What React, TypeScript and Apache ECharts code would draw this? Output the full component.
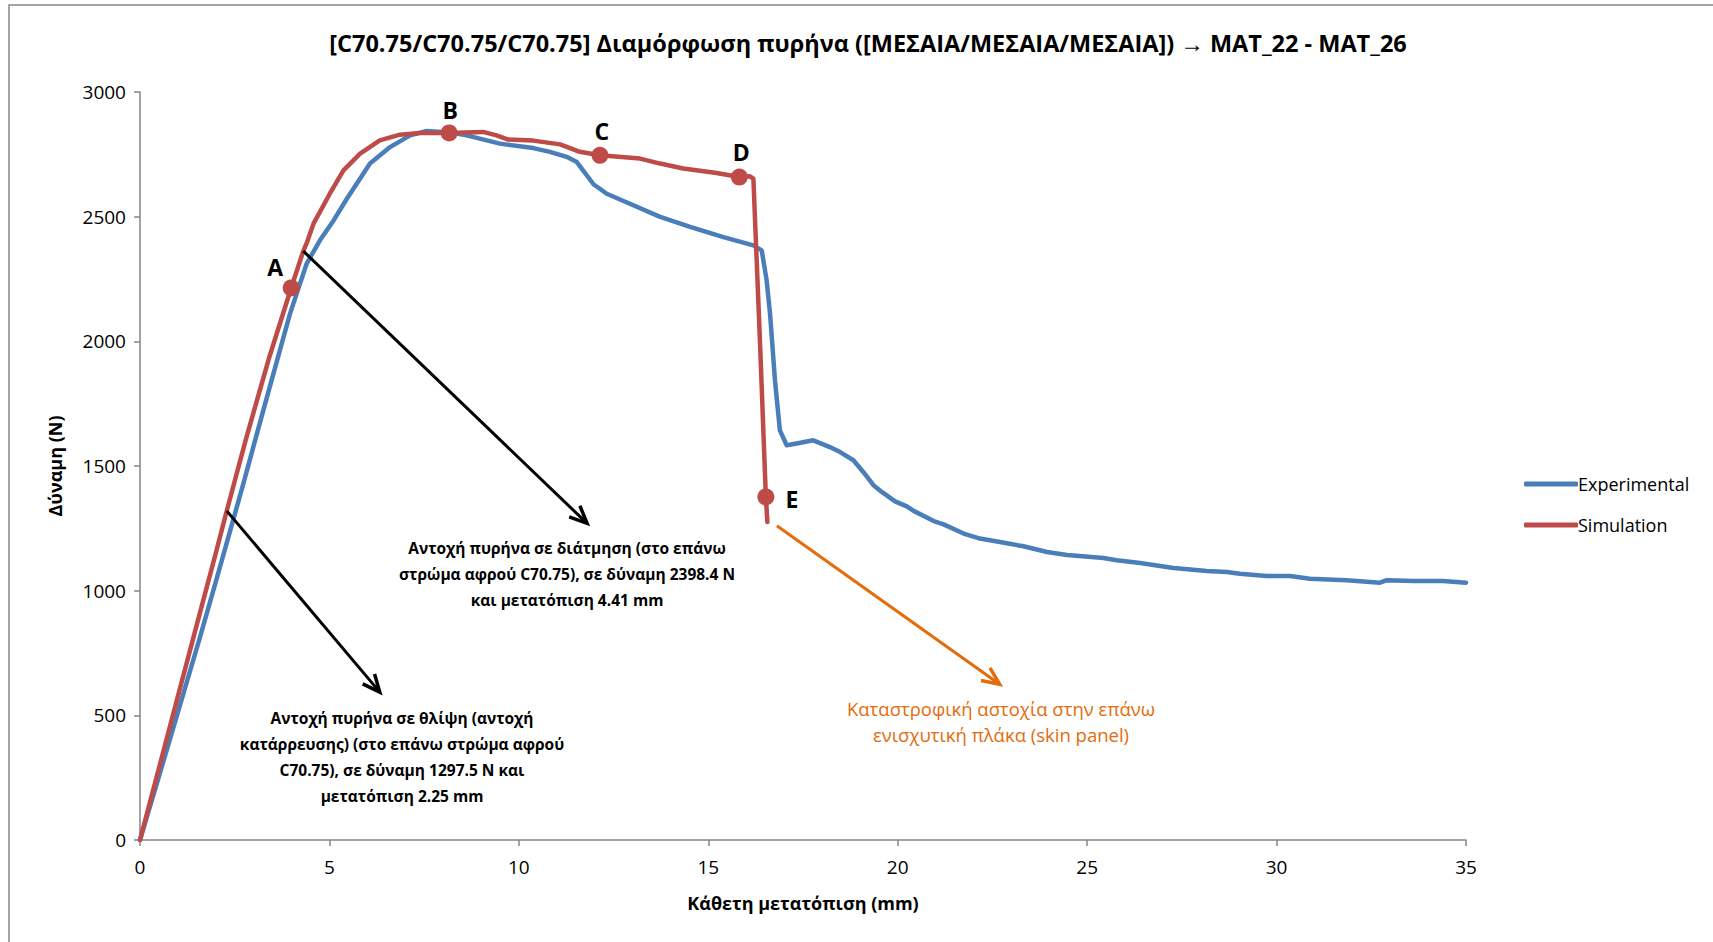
import React, { useEffect, useRef } from "react";
import * as echarts from "echarts";

// Force–displacement curves (x: mm, y: N)
const experimentalX = [0, 0.5, 1, 1.58, 2, 2.73, 3.06, 3.34, 3.96, 4.4, 4.75, 5.11, 5.46, 6.07, 6.6, 7.13, 7.57, 8.16, 8.62, 9.5, 10.38, 10.82, 11.26, 11.53, 11.97, 12.32, 12.93, 13.73, 14.52, 15.4, 16.19, 16.41, 16.54, 16.63, 16.76, 16.89, 17.07, 17.33, 17.77, 18.21, 18.48, 18.83, 19.09, 19.36, 19.58, 19.93, 20.24, 20.42, 20.95, 21.21, 21.74, 22.17, 22.7, 23.32, 23.94, 24.47, 25.43, 25.78, 26.4, 27.28, 28.16, 28.69, 29.03, 29.74, 30.35, 30.88, 31.85, 32.73, 32.91, 33.61, 34.4, 35];
const experimentalY = [0, 255, 512, 812, 1035, 1430, 1615, 1770, 2111, 2312, 2405, 2485, 2572, 2713, 2779, 2826, 2844, 2838, 2826, 2793, 2775, 2760, 2740, 2719, 2630, 2592, 2552, 2499, 2459, 2418, 2385, 2365, 2245, 2111, 1844, 1643, 1583, 1590, 1603, 1576, 1556, 1523, 1476, 1423, 1396, 1358, 1338, 1320, 1279, 1266, 1229, 1209, 1195, 1178, 1155, 1143, 1131, 1122, 1111, 1091, 1079, 1075, 1068, 1059, 1059, 1048, 1042, 1032, 1042, 1039, 1039, 1032];

const simulationX = [0, 0.5, 1, 1.5, 2, 2.25, 2.5, 2.8, 3.4, 3.99, 4.31, 4.41, 4.58, 5.01, 5.37, 5.81, 6.33, 6.86, 7.39, 8.16, 9.06, 9.41, 9.72, 10.38, 11.09, 11.61, 12.14, 13.2, 13.73, 14.34, 15.22, 15.82, 16.1, 16.19, 16.37, 16.52, 16.56];
const simulationY = [0, 288, 576, 864, 1150, 1297, 1440, 1610, 1930, 2214, 2362, 2398, 2472, 2592, 2686, 2753, 2806, 2829, 2836, 2836, 2840, 2826, 2809, 2805, 2790, 2760, 2746, 2733, 2713, 2693, 2675, 2659, 2662, 2653, 1977, 1376, 1275];

// Characteristic points on the simulation curve
const pointLabels = ["A", "B", "C", "D", "E"];
const pointX = [3.99, 8.16, 12.14, 15.82, 16.52];
const pointY = [2214, 2836, 2746, 2659, 1376];

// Annotation arrows: [x start, y start, x end, y end]
const shearArrow = [4.31, 2362, 11.8, 1270];
const compressionArrow = [2.29, 1320, 6.33, 593];
const failureArrow = [16.81, 1260, 22.69, 625];

const xTicks = [0, 5, 10, 15, 20, 25, 30, 35];
const yTicks = [0, 500, 1000, 1500, 2000, 2500, 3000];

const titleText =
  "[C70.75/C70.75/C70.75] Διαμόρφωση πυρήνα ([ΜΕΣΑΙΑ/ΜΕΣΑΙΑ/ΜΕΣΑΙΑ]) → MAT_22 - MAT_26";
const xName = "Κάθετη μετατόπιση (mm)";
const yName = "Δύναμη (N)";
const shearNote =
  "Αντοχή πυρήνα σε διάτμηση (στο επάνω\nστρώμα αφρού C70.75), σε δύναμη 2398.4 N\nκαι μετατόπιση 4.41 mm";
const compressionNote =
  "Αντοχή πυρήνα σε θλίψη (αντοχή\nκατάρρευσης) (στο επάνω στρώμα αφρού\nC70.75), σε δύναμη 1297.5 N και\nμετατόπιση 2.25 mm";
const failureNote = "Καταστροφική αστοχία στην επάνω\nενισχυτική πλάκα (skin panel)";

const FONT = "'Open Sans', 'Noto Sans', sans-serif";
const BLUE = "#4A7EBB";
const RED = "#BE4B48";
const ORANGE = "#E46C0A";
const AXIS = "#868686";

const labelOffsets: Record<string, [number, number]> = {
  A: [-16, -21],
  B: [1, -23],
  C: [2, -24],
  D: [2, -25],
  E: [26, 2],
};

export default function App() {
  const ref = useRef<HTMLDivElement>(null);

  useEffect(() => {
    document.body.style.margin = "0";
    if (!ref.current) return;
    const chart = echarts.init(ref.current, undefined, { renderer: "svg" });

    const zip = (xs: number[], ys: number[]) => xs.map((x, i) => [x, ys[i]]);
    const arrows = [
      { value: shearArrow, color: "#000" },
      { value: compressionArrow, color: "#000" },
      { value: failureArrow, color: ORANGE },
    ];
    const noteStyle = {
      textAlign: "center",
      textVerticalAlign: "middle",
      align: "center",
      verticalAlign: "middle",
      fontFamily: FONT,
    };

    chart.setOption({
      animation: false,
      backgroundColor: "#fff",
      title: {
        text: titleText,
        left: 863,
        textAlign: "center",
        top: 26,
        textStyle: { fontFamily: FONT, fontWeight: "bold", fontSize: 23.5, color: "#000" },
      },
      legend: {
        data: ["Experimental", "Simulation"],
        orient: "vertical",
        left: 1519,
        top: 470,
        itemWidth: 54,
        itemHeight: 5,
        itemGap: 23,
        icon: "roundRect",
        textStyle: { fontFamily: FONT, fontSize: 18, color: "#000", padding: [0, 0, 0, -5] },
      },
      grid: { left: 140, top: 92, width: 1326, height: 748, containLabel: false },
      xAxis: {
        type: "value",
        min: xTicks[0],
        max: xTicks[xTicks.length - 1],
        interval: xTicks[1] - xTicks[0],
        name: xName,
        nameLocation: "middle",
        nameGap: 54,
        nameTextStyle: { fontFamily: FONT, fontWeight: "bold", fontSize: 18, color: "#000" },
        axisLine: { lineStyle: { color: AXIS, width: 1.5 } },
        axisTick: { show: true, length: 6, lineStyle: { color: AXIS, width: 1.5 } },
        axisLabel: { fontFamily: FONT, fontSize: 19, color: "#000", margin: 17, formatter: (v: number) => String(v) },
        splitLine: { show: false },
      },
      yAxis: {
        type: "value",
        min: yTicks[0],
        max: yTicks[yTicks.length - 1],
        interval: yTicks[1] - yTicks[0],
        name: yName,
        nameLocation: "middle",
        nameGap: 76,
        nameTextStyle: { fontFamily: FONT, fontWeight: "bold", fontSize: 18, color: "#000" },
        axisLine: { show: true, lineStyle: { color: AXIS, width: 1.5 } },
        axisTick: { show: true, length: 6, lineStyle: { color: AXIS, width: 1.5 } },
        axisLabel: { fontFamily: FONT, fontSize: 19, color: "#000", margin: 14, formatter: (v: number) => String(v) },
        splitLine: { show: false },
      },
      graphic: [
        {
          type: "rect",
          shape: { x: 9, y: 5, width: 1800, height: 1000 },
          style: { fill: "none", stroke: AXIS, lineWidth: 1.5 },
          silent: true,
        },
        {
          type: "text",
          x: 567,
          y: 574,
          style: { ...noteStyle, text: shearNote, fontWeight: "bold", fontSize: 15.5, lineHeight: 25.7, fill: "#000" },
        },
        {
          type: "text",
          x: 402,
          y: 757,
          style: { ...noteStyle, text: compressionNote, fontWeight: "bold", fontSize: 15.5, lineHeight: 26.2, fill: "#000" },
        },
        {
          type: "text",
          x: 1001,
          y: 721,
          style: { ...noteStyle, text: failureNote, fontSize: 18.5, lineHeight: 26, fill: ORANGE },
        },
      ],
      series: [
        {
          name: "Experimental",
          type: "line",
          data: zip(experimentalX, experimentalY),
          showSymbol: false,
          symbol: "none",
          color: BLUE,
          lineStyle: { color: BLUE, width: 4.5, cap: "round", join: "round" },
          z: 2,
        },
        {
          name: "Simulation",
          type: "line",
          data: zip(simulationX, simulationY),
          showSymbol: false,
          symbol: "none",
          color: RED,
          lineStyle: { color: RED, width: 4.5, cap: "round", join: "round" },
          z: 3,
        },
        {
          name: "points",
          type: "scatter",
          symbolSize: 17,
          itemStyle: { color: RED, opacity: 1 },
          z: 4,
          data: pointLabels.map((name, i) => ({
            name,
            value: [pointX[i], pointY[i]],
            label: {
              show: true,
              position: "inside",
              offset: labelOffsets[name],
              formatter: name,
              fontFamily: FONT,
              fontWeight: "bold",
              fontSize: 23,
              color: "#000",
            },
          })),
        },
        {
          name: "arrows",
          type: "custom",
          clip: false,
          z: 5,
          encode: { x: [0, 2], y: [1, 3] },
          data: arrows.map((a) => a.value),
          renderItem: (params: any, api: any) => {
            const p1 = api.coord([api.value(0), api.value(1)]);
            const p2 = api.coord([api.value(2), api.value(3)]);
            const color = arrows[params.dataIndex].color;
            const ang = Math.atan2(p2[1] - p1[1], p2[0] - p1[0]);
            const len = 19;
            const spread = 0.42;
            const h1 = [p2[0] - len * Math.cos(ang - spread), p2[1] - len * Math.sin(ang - spread)];
            const h2 = [p2[0] - len * Math.cos(ang + spread), p2[1] - len * Math.sin(ang + spread)];
            return {
              type: "group",
              children: [
                {
                  type: "line",
                  shape: { x1: p1[0], y1: p1[1], x2: p2[0], y2: p2[1] },
                  style: { stroke: color, lineWidth: 3 },
                },
                {
                  type: "polyline",
                  shape: { points: [h1, p2, h2] },
                  style: { stroke: color, lineWidth: 3.5, fill: null },
                },
              ],
            };
          },
        },
      ],
    });

    return () => chart.dispose();
  }, []);

  return <div ref={ref} style={{ width: 1713, height: 942 }} />;
}
